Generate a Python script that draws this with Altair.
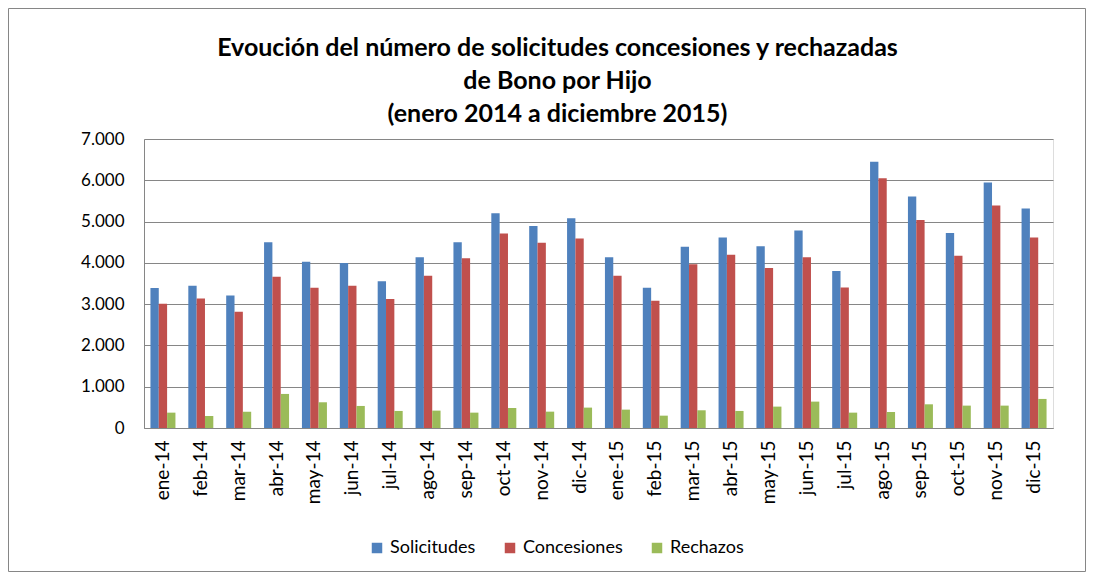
import altair as alt
import pandas as pd

months = ["ene-14", "feb-14", "mar-14", "abr-14", "may-14", "jun-14", "jul-14", "ago-14",
          "sep-14", "oct-14", "nov-14", "dic-14", "ene-15", "feb-15", "mar-15", "abr-15",
          "may-15", "jun-15", "jul-15", "ago-15", "sep-15", "oct-15", "nov-15", "dic-15"]
solicitudes = [3390, 3447, 3212, 4498, 4029, 3997, 3552, 4134,
               4502, 5202, 4895, 5081, 4134, 3398, 4393, 4612,
               4401, 4782, 3803, 6448, 5607, 4725, 5947, 5315]
concesiones = [3010, 3139, 2816, 3665, 3398, 3447, 3123, 3689,
               4110, 4709, 4490, 4587, 3689, 3083, 3964, 4199,
               3875, 4134, 3406, 6052, 5040, 4175, 5388, 4612]
rechazos = [372, 291, 396, 825, 623, 534, 413, 421,
            372, 485, 396, 494, 445, 299, 429, 413,
            518, 639, 372, 388, 574, 542, 542, 704]
series = ["Solicitudes", "Concesiones", "Rechazos"]
colors = ["#4F81BD", "#C0504D", "#9BBB59"]

rows = []
for name, vals in zip(series, [solicitudes, concesiones, rechazos]):
    for m, v in zip(months, vals):
        rows.append({"mes": m, "serie": name, "valor": v})
df = pd.DataFrame(rows)

FONT = "Lato"

bars = alt.Chart(df).mark_bar().encode(
    x=alt.X("mes:N", sort=months, title=None,
            scale=alt.Scale(paddingInner=0.34, paddingOuter=0.17),
            axis=alt.Axis(labelAngle=-90, labelFontSize=19, labelPadding=12,
                          ticks=False, domainColor="#868686", labelColor="#000000",
                          labelFont=FONT)),
    xOffset=alt.XOffset("serie:N", sort=series),
    y=alt.Y("valor:Q", title=None,
            scale=alt.Scale(domain=[0, 7000], nice=False),
            axis=alt.Axis(values=[0, 1000, 2000, 3000, 4000, 5000, 6000, 7000],
                          labelExpr="replace(format(datum.value, ','), ',', '.')",
                          labelFontSize=17, labelPadding=20, ticks=False,
                          grid=True, gridColor="#868686", gridWidth=1,
                          domainColor="#868686", labelColor="#000000",
                          labelFont=FONT)),
    color=alt.Color("serie:N", sort=series,
                    scale=alt.Scale(domain=series, range=colors),
                    legend=alt.Legend(title=None, orient="none", direction="horizontal",
                                      legendX=224, legendY=400,
                                      symbolType="square", symbolSize=110,
                                      symbolStrokeWidth=0,
                                      labelFontSize=18, labelFont=FONT,
                                      columnPadding=25, labelColor="#000000")),
)

frame = alt.Chart(pd.DataFrame({"a": [0]})).mark_rect(
    filled=False, stroke="#868686", strokeWidth=1, clip=False
).encode(
    x=alt.value(-135.5), x2=alt.value(941.5),
    y=alt.value(-130.5), y2=alt.value(432.5),
)

chart = alt.layer(bars, frame).properties(
    width=909,
    height=289,
    autosize=alt.AutoSizeParams(type="none"),
    padding={"left": 136, "top": 131, "right": 33, "bottom": 144},
    title=alt.Title(
        ["Evoución del número de solicitudes concesiones y rechazadas",
         "de Bono por Hijo",
         "(enero 2014 a diciembre 2015)"],
        fontSize=25, font=FONT, fontWeight="bold", lineHeight=33,
        anchor="middle", dx=-41, offset=-119, color="#000000", frame="group",
    ),
).configure_view(stroke=None).configure(background="white")

chart.save("out.html", embed_options={"renderer": "svg", "actions": False})
